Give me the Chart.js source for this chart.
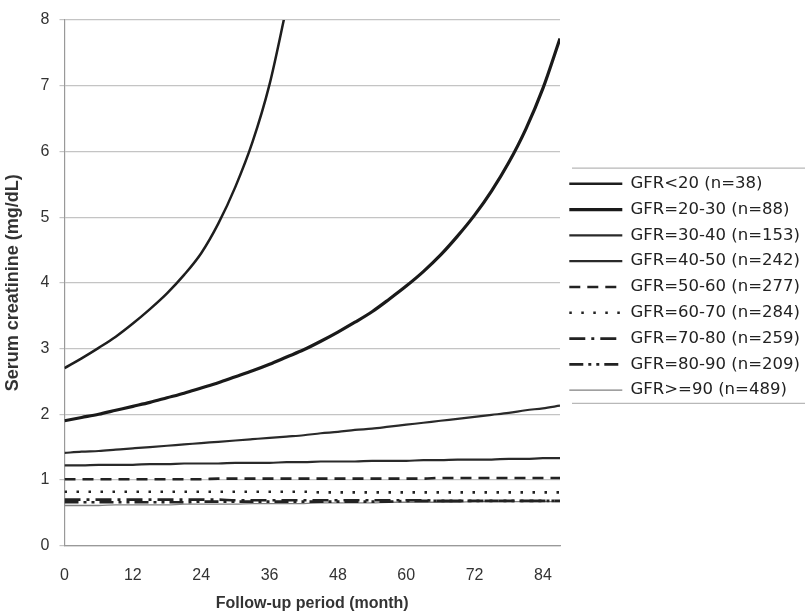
<!DOCTYPE html>
<html><head><meta charset="utf-8">
<script src="https://cdn.jsdelivr.net/npm/chart.js@4/dist/chart.umd.min.js"></script>
<style>html,body{margin:0;padding:0;background:#fff;}#wrap{width:805px;height:613px;}</style>
</head><body><div id="wrap"><canvas id="c" width="805" height="613"></canvas></div>
<script>
// Follow-up months (x values)
const months = [0,3,6,9,12,15,18,21,24,27,30,33,36,39,42,45,48,51,54,57,60,63,66,69,72,75,78,81,84,87];
const xTickStep = 12;
const yTicksMax = 8;

const seriesNames = [
  'GFR<20 (n=38)','GFR=20-30 (n=88)','GFR=30-40 (n=153)','GFR=40-50 (n=242)',
  'GFR=50-60 (n=277)','GFR=60-70 (n=284)','GFR=70-80 (n=259)','GFR=80-90 (n=209)','GFR>=90 (n=489)'
];
// Serum creatinine (mg/dL)
const gfrLt20  = [2.70,2.85,3.01,3.18,3.38,3.60,3.84,4.12,4.45,4.90,5.46,6.14,7.02,8.20];
const gfr20_30 = [1.90,1.95,2.00,2.06,2.12,2.18,2.25,2.32,2.40,2.48,2.57,2.66,2.76,2.87,2.98,3.11,3.25,3.40,3.56,3.75,3.95,4.17,4.42,4.71,5.03,5.40,5.83,6.34,6.96,7.72];
const gfr30_40 = [1.41,1.43,1.44,1.46,1.48,1.50,1.52,1.54,1.56,1.58,1.60,1.62,1.64,1.66,1.68,1.71,1.73,1.76,1.78,1.81,1.84,1.87,1.90,1.93,1.96,1.99,2.02,2.06,2.09,2.13];
const gfr40_50 = [1.22,1.22,1.23,1.23,1.23,1.24,1.24,1.25,1.25,1.25,1.26,1.26,1.26,1.27,1.27,1.28,1.28,1.28,1.29,1.29,1.29,1.30,1.30,1.31,1.31,1.31,1.32,1.32,1.33,1.33];
const gfr50_60 = [1.01,1.01,1.01,1.01,1.01,1.01,1.01,1.01,1.01,1.02,1.02,1.02,1.02,1.02,1.02,1.02,1.02,1.02,1.02,1.02,1.02,1.02,1.03,1.03,1.03,1.03,1.03,1.03,1.03,1.03];
const gfr60_70 = [0.82,0.82,0.82,0.82,0.82,0.82,0.82,0.82,0.82,0.82,0.82,0.82,0.82,0.82,0.82,0.81,0.81,0.81,0.81,0.81,0.81,0.81,0.81,0.81,0.81,0.81,0.81,0.81,0.81,0.81];
const gfr70_80 = [0.70,0.70,0.70,0.70,0.70,0.70,0.70,0.70,0.70,0.70,0.69,0.69,0.69,0.69,0.69,0.69,0.69,0.69,0.69,0.69,0.69,0.69,0.68,0.68,0.68,0.68,0.68,0.68,0.68,0.68];
const gfr80_90 = [0.66,0.66,0.66,0.66,0.66,0.66,0.66,0.66,0.67,0.67,0.67,0.67,0.67,0.67,0.67,0.67,0.67,0.67,0.67,0.67,0.68,0.68,0.68,0.68,0.68,0.68,0.68,0.68,0.68,0.68];
const gfrGe90  = [0.61,0.61,0.61,0.62,0.62,0.62,0.62,0.63,0.63,0.63,0.63,0.64,0.64,0.64,0.64,0.65,0.65,0.65,0.65,0.66,0.66,0.66,0.66,0.66,0.67,0.67,0.67,0.67,0.67,0.67];

const seriesValues = [gfrLt20,gfr20_30,gfr30_40,gfr40_50,gfr50_60,gfr60_70,gfr70_80,gfr80_90,gfrGe90];
const styles = [
  {c:'#1e1e1e', w:2.5, d:[]},
  {c:'#1a1a1a', w:3.2, d:[]},
  {c:'#2a2a2a', w:2.2, d:[]},
  {c:'#2a2a2a', w:2.2, d:[]},
  {c:'#222', w:2.6, d:[11,7]},
  {c:'#222', w:2.6, d:[2.5,9.5]},
  {c:'#222', w:2.6, d:[16,6,3,6]},
  {c:'#222', w:2.6, d:[14,5,3,5,3,5]},
  {c:'#808080', w:1.3, d:[]}
];

const datasets = seriesValues.map((vals,i)=>({
  label: seriesNames[i],
  data: vals.map((v,j)=>({x:months[j], y:v})),
  borderColor: styles[i].c,
  backgroundColor: styles[i].c,
  borderWidth: styles[i].w,
  borderDash: styles[i].d,
  pointRadius: 0,
  fill: false,
  cubicInterpolationMode: 'monotone'
}));

const legendBorders = {
  id: 'legendBorders',
  afterDraw(chart){
    const lg = chart.legend; if(!lg || !lg.legendHitBoxes.length) return;
    const hb = lg.legendHitBoxes;
    const top = hb[0].top - 7.5, bottom = hb[hb.length-1].top + hb[hb.length-1].height + 5;
    const ctx = chart.ctx;
    ctx.save(); ctx.strokeStyle = '#b8b8b8'; ctx.lineWidth = 1.2; ctx.setLineDash([]);
    ctx.beginPath();
    ctx.moveTo(lg.left + 12, top); ctx.lineTo(chart.width, top);
    ctx.moveTo(lg.left + 12, bottom); ctx.lineTo(chart.width, bottom);
    ctx.stroke(); ctx.restore();
  }
};

new Chart(document.getElementById('c'), {
  type: 'line',
  data: { datasets },
  plugins: [legendBorders],
  options: {
    responsive: false,
    animation: false,
    layout: { padding: { left: 0, top: 20, right: 4, bottom: 0 } },
    plugins: {
      tooltip: { enabled: false },
      legend: {
        position: 'right',
        align: 'center',
        fullSize: false,
        maxWidth: 241,
        title: { display: true, text: '', padding: 0, font: { size: 7 } },
        labels: {
          usePointStyle: true,
          pointStyle: 'line',
          pointStyleWidth: 53,
          padding: 9.3,
          color: '#222',
          font: { family: '"DejaVu Sans", sans-serif', size: 16.5 },
          generateLabels(chart) {
            const items = Chart.defaults.plugins.legend.labels.generateLabels(chart);
            items.forEach(it => {
              const ds = chart.data.datasets[it.datasetIndex];
              it.lineDash = ds.borderDash;
              it.lineWidth = ds.borderWidth;
              it.strokeStyle = ds.borderColor;
              it.fillStyle = ds.borderColor;
              it.pointStyle = 'line';
            });
            return items;
          }
        }
      }
    },
    scales: {
      x: {
        type: 'linear',
        min: 0, max: 87,
        grid: { display: false, drawTicks: false },
        border: { display: true, color: '#999', width: 1.2 },
        ticks: { stepSize: xTickStep, includeBounds: false, padding: 20, color: '#333',
                 font: { family: '"Liberation Sans", Arial, sans-serif', size: 16 } },
        title: { display: true, text: 'Follow-up period (month)', color: '#333',
                 padding: { top: -11, bottom: 0 },
                 font: { family: '"Liberation Sans", Arial, sans-serif', size: 16, weight: 'bold' } }
      },
      y: {
        min: 0, max: yTicksMax,
        grid: { color: '#c4c4c4', lineWidth: 1.2, drawTicks: true, tickLength: 5 },
        border: { display: true, color: '#999', width: 1.2 },
        ticks: { stepSize: 1, padding: 10, color: '#333',
                 font: { family: '"Liberation Sans", Arial, sans-serif', size: 16 } },
        title: { display: true, text: 'Serum creatinine (mg/dL)', color: '#333',
                 padding: { top: 2, bottom: 7 },
                 font: { family: '"Liberation Sans", Arial, sans-serif', size: 18, weight: 'bold' } }
      }
    }
  }
});
</script>
</body></html>
